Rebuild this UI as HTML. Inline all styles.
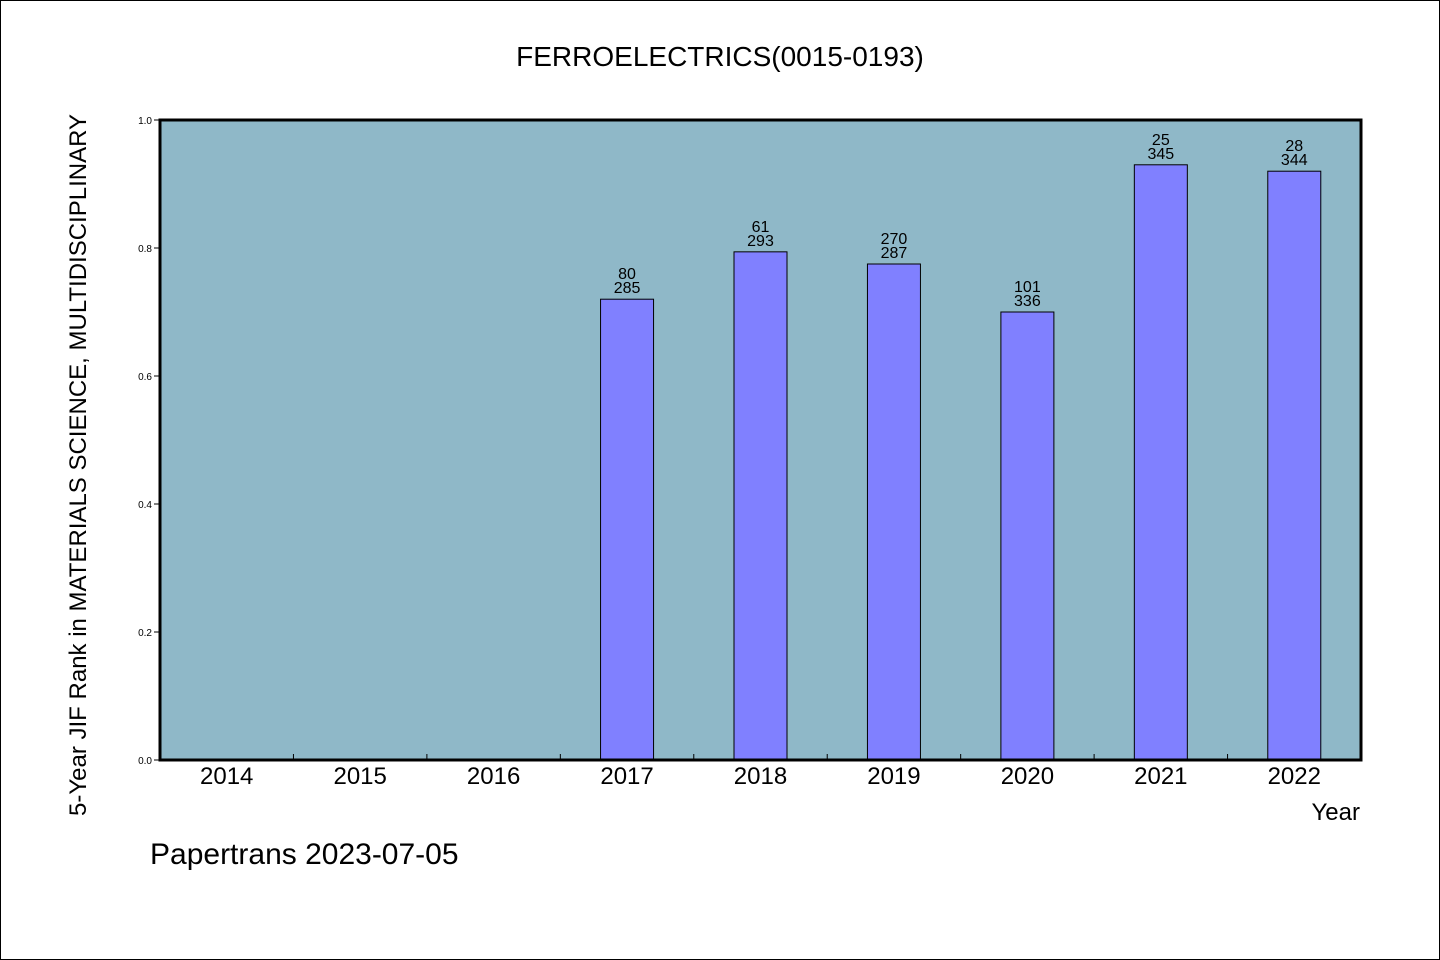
<!DOCTYPE html>
<html><head><meta charset="utf-8"><style>
html,body{margin:0;padding:0;background:#fff}
svg{display:block;font-family:"WenQuanYi Zen Hei","Liberation Sans",sans-serif}
</style></head><body>
<svg id="c" width="1440" height="960" xmlns="http://www.w3.org/2000/svg">
<rect x="0.5" y="0.5" width="1439" height="959" fill="#fff" stroke="#000"/>
<text x="720" y="66" text-anchor="middle" font-size="28">FERROELECTRICS(0015-0193)</text>
<rect x="160" y="120" width="1201" height="640" fill="#8fb8c8"/>
<g id="bars"></g>
<g id="ticks"></g>
<rect x="160" y="120" width="1201" height="640" fill="none" stroke="#000" stroke-width="3"/>
<text transform="translate(86,465) rotate(-90)" text-anchor="middle" font-size="24">5-Year JIF Rank in MATERIALS SCIENCE, MULTIDISCIPLINARY</text>
<text x="1360" y="820" text-anchor="end" font-size="24">Year</text>
<text x="150" y="864" font-size="30">Papertrans 2023-07-05</text>
</svg>
<script>
const years=["2014","2015","2016","2017","2018","2019","2020","2021","2022"];
const values=[null,null,null,0.720,0.794,0.775,0.700,0.930,0.920];
const ranks=["","","","80","61","270","101","25","28"];
const totals=["","","","285","293","287","336","345","344"];
const yTicks=["0.0","0.2","0.4","0.6","0.8","1.0"];
const NS="http://www.w3.org/2000/svg";
const X0=160,X1=1361,Y0=760,Y1=120;
const bw=(X1-X0)/years.length;
const xc=i=>X0+(i+0.5)*bw;
const ys=v=>Y0-(v-0)/(1-0)*(Y0-Y1);
function mk(t,a,p){const e=document.createElementNS(NS,t);for(const k in a)e.setAttribute(k,a[k]);p.appendChild(e);return e;}
const bars=document.getElementById('bars'),ticks=document.getElementById('ticks');
years.forEach((y,i)=>{
  const t=mk('text',{x:xc(i),y:784,'text-anchor':'middle','font-size':24},ticks);t.textContent=y;
  
  
  if(i>0){const l=mk('line',{x1:X0+i*bw,x2:X0+i*bw,y1:Y0,y2:Y0-6,stroke:'#000'},ticks);
    
    }
  const v=values[i];
  if(v==null)return;
  const r=mk('rect',{x:xc(i)-26.5,y:ys(v),width:53,height:Y0-ys(v),fill:'#8080ff',stroke:'#000','stroke-width':1},bars);
  
  
  const a=mk('text',{x:xc(i),y:ys(v)-20,'text-anchor':'middle','font-size':16},bars);a.textContent=ranks[i];
  
  
  const b=mk('text',{x:xc(i),y:ys(v)-6,'text-anchor':'middle','font-size':16},bars);b.textContent=totals[i];
  
  
});
yTicks.forEach(s=>{
  const v=parseFloat(s),y=ys(v);
  const l=mk('line',{x1:X0-6,x2:X0,y1:y,y2:y,stroke:'#000'},ticks);
  
  
  const t=mk('text',{x:X0-8,y:y+4,'text-anchor':'end','font-size':10},ticks);t.textContent=s;
  
  
});
</script>
</body></html>
